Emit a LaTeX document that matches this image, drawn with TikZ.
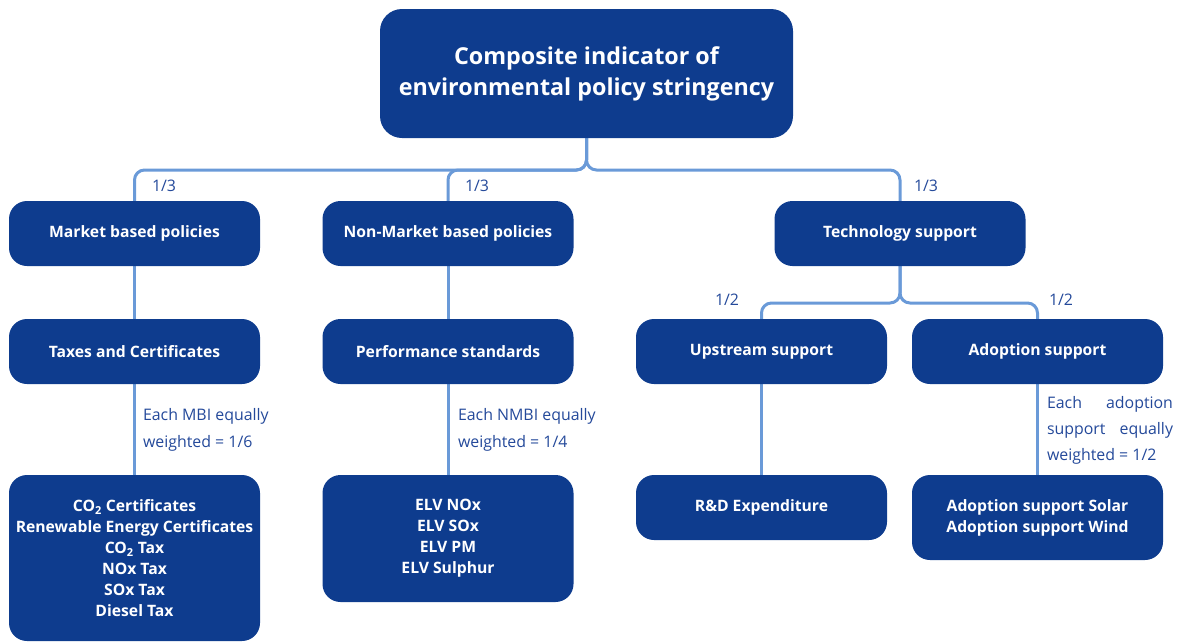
\documentclass[tikz,border=0pt]{standalone}
\usepackage{fontspec}
\setmainfont{Open Sans}
\usetikzlibrary{positioning, backgrounds}
\definecolor{boxblue}{HTML}{0E3C8E}
\definecolor{linkblue}{HTML}{6A9AD8}
\definecolor{labelblue}{HTML}{24499A}

\begin{document}
\begin{tikzpicture}[x=1pt, y=1pt, node distance=53pt]
\tikzset{every node/.style={inner sep=0pt, outer sep=0pt}}

\tikzstyle{box}=[rectangle, rounded corners=18pt, fill=boxblue, text=white, align=center, minimum width=251pt, minimum height=65pt, font=\fontsize{15.7}{21}\selectfont\bfseries]
\tikzstyle{root}=[box, rounded corners=22pt, minimum width=413pt, minimum height=129pt, font=\fontsize{23.3}{31}\selectfont\bfseries]
\tikzstyle{weight}=[anchor=west, align=left, text=labelblue, font=\fontsize{15.9}{27}\selectfont]
\tikzstyle{link}=[draw=linkblue, line width=3pt, rounded corners=10pt]

\useasboundingbox (0,0) rectangle (1181,-641);

\node[root] (top) at (586.5,-73.5) {Composite indicator of\\environmental policy stringency};

\node[box] (mbp) at (134.5,-233.5) {Market based policies};
\node[box] (nmbp) at (448,-233.5) {Non-Market based policies};
\node[box] (tech) at (900,-233.5) {Technology support};

\node[box, below=of mbp] (tax) {Taxes and Certificates};
\node[box, below=of nmbp] (perf) {Performance standards};
\node[box] (up) at (761.5,-351.5) {Upstream support};
\node[box, right=25pt of up] (adopt) {Adoption support};

\node[box, minimum height=166pt, below=91pt of tax] (mbi) {CO\textsubscript{2} Certificates\\Renewable Energy Certificates\\CO\textsubscript{2} Tax\\NOx Tax\\SOx Tax\\Diesel Tax};
\node[box, minimum height=127pt, below=91pt of perf] (nmbi) {ELV NOx\\ELV SOx\\ELV PM\\ELV Sulphur};
\node[box, below=91pt of up] (rd) {R\&D Expenditure};
\node[box, minimum height=85pt, below=91pt of adopt] (ads) {Adoption support Solar\\Adoption support Wind};

\coordinate (fork) at (586.5,-170);
\coordinate (tech fork) at (900,-303);

\begin{scope}[on background layer]
\draw[link] (top.south) |- (mbp.north |- fork) -- (mbp.north);
\draw[link] (top.south) |- (nmbp.north |- fork) -- (nmbp.north);
\draw[link] (top.south) |- (tech.north |- fork) -- (tech.north);
\draw[link] (tech.south) |- (up.north |- tech fork) -- (up.north);
\draw[link] (tech.south) |- (adopt.north |- tech fork) -- (adopt.north);
\draw[link] (mbp) -- (tax);
\draw[link] (nmbp) -- (perf);
\draw[link] (tax) -- (mbi);
\draw[link] (perf) -- (nmbi);
\draw[link] (up) -- (rd);
\draw[link] (adopt) -- (ads);
\end{scope}

\node[weight] (mbp label) at (152,-186) {1/3};
\node[weight] (nmbp label) at (465,-186) {1/3};
\node[weight] (tech label) at (914,-186) {1/3};
\node[weight] (up label) at (715,-300) {1/2};
\node[weight] (adopt label) at (1049,-300) {1/2};

\node[weight] (mbi label) at (143,-430) {Each MBI equally\\weighted = 1/6};
\node[weight] (nmbi label) at (458,-430) {Each NMBI equally\\weighted = 1/4};
\node[weight, text width=126pt, align=justify, font=\fontsize{15.9}{26}\selectfont] (ads label) at (1047,-430) {Each adoption support equally weighted = 1/2};

\end{tikzpicture}
\end{document}
